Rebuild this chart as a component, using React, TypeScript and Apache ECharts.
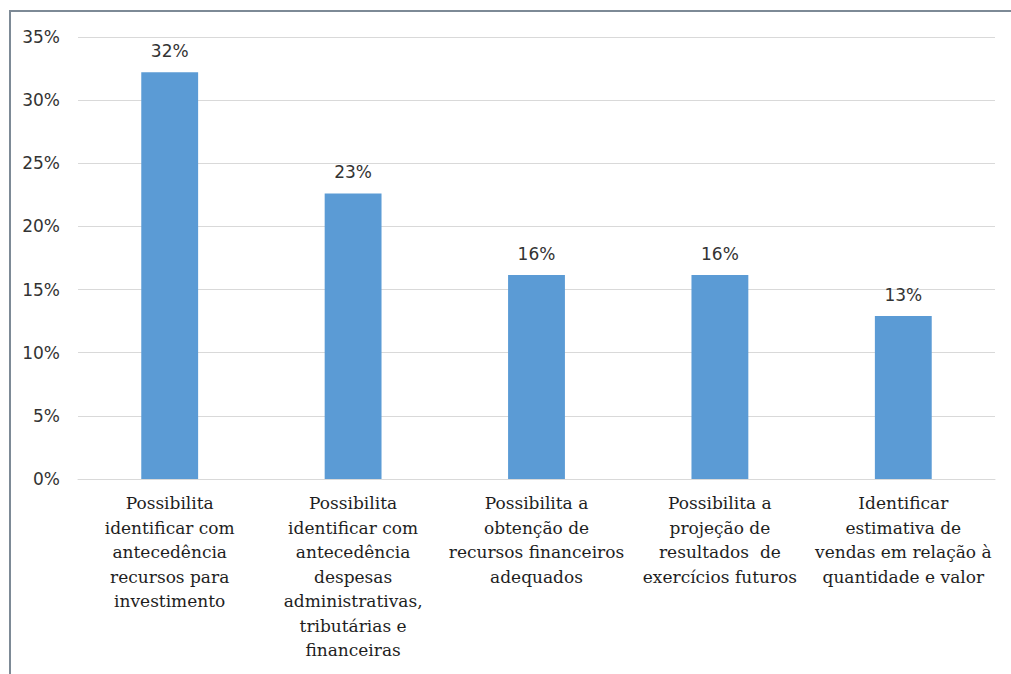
import React, { useEffect, useRef } from "react";
import * as echarts from "echarts";

const categories = [
  "Possibilita\nidentificar com\nantecedência\nrecursos para\ninvestimento",
  "Possibilita\nidentificar com\nantecedência\ndespesas\nadministrativas,\ntributárias e\nfinanceiras",
  "Possibilita a\nobtenção de\nrecursos financeiros\nadequados",
  "Possibilita a\nprojeção de\nresultados  de\nexercícios futuros",
  "Identificar\nestimativa de\nvendas em relação à\nquantidade e valor",
];
const values = [32.2, 22.6, 16.15, 16.15, 12.9];
const yTicks = { min: 0, max: 35, interval: 5 };

export default function App() {
  const ref = useRef<HTMLDivElement>(null);
  useEffect(() => {
    if (!ref.current) return;
    const chart = echarts.init(ref.current, null, { renderer: "svg" });
    chart.setOption({
      animation: false,
      backgroundColor: "transparent",
      grid: { left: 78, right: 16, top: 37, bottom: 195, containLabel: false },
      xAxis: {
        type: "category",
        data: categories,
        axisTick: { show: false },
        axisLine: { show: true, lineStyle: { color: "#d9d9d9", width: 1 } },
        axisLabel: {
          interval: 0,
          margin: 12,
          fontFamily: "DejaVu Serif",
          fontSize: 17,
          lineHeight: 24.5,
          color: "#1e1e1e",
          align: "center",
        },
      },
      yAxis: {
        type: "value",
        min: yTicks.min,
        max: yTicks.max,
        interval: yTicks.interval,
        axisLine: { show: false },
        axisTick: { show: false },
        splitLine: { lineStyle: { color: "#d9d9d9", width: 1 } },
        axisLabel: {
          formatter: "{value}%",
          margin: 18,
          fontFamily: "DejaVu Sans",
          fontSize: 17,
          color: "#333333",
        },
      },
      series: [
        {
          type: "bar",
          data: values,
          barWidth: "31%",
          itemStyle: { color: "#5b9bd5" },
          label: {
            show: true,
            position: "top",
            distance: 13,
            formatter: (p: any) => Math.round(p.value) + "%",
            fontFamily: "DejaVu Sans",
            fontSize: 17,
            color: "#333333",
          },
        },
      ],
    });
    return () => chart.dispose();
  }, []);
  return (
    <div
      style={{
        position: "fixed",
        left: 0,
        top: 0,
        width: 1011,
        height: 674,
        background: "#fff",
      }}
    >
      <div
        style={{
          position: "absolute",
          left: 9,
          top: 10,
          width: 1011,
          height: 674,
          borderLeft: "2px solid #7d8a96",
          borderTop: "2px solid #7d8a96",
        }}
      />
      <div ref={ref} style={{ position: "absolute", left: 0, top: 0, width: 1011, height: 674 }} />
    </div>
  );
}
